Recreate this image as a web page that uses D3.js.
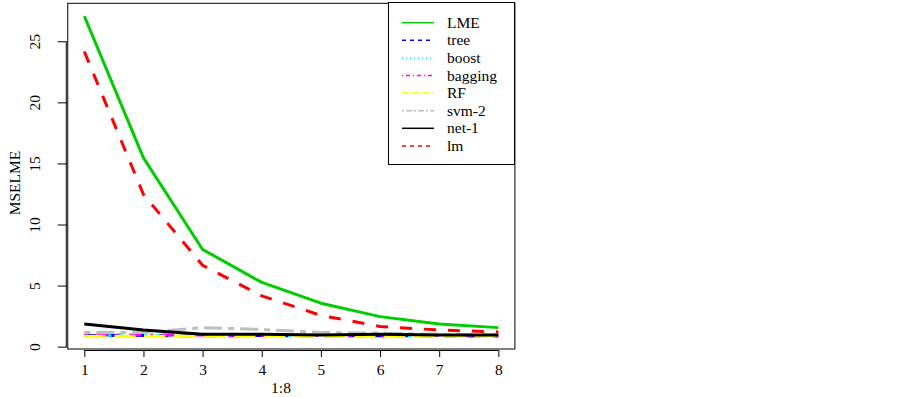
<!DOCTYPE html>
<html>
<head>
<meta charset="utf-8">
<script src="https://cdn.jsdelivr.net/npm/d3@7"></script>
<style>
  body { margin: 0; background: #fff; }
  text { font-family: "Liberation Serif", "DejaVu Serif", serif; fill: #000; }
</style>
</head>
<body>
<div id="chart"></div>
<script>
// x values are 1:8
var steps = [1, 2, 3, 4, 5, 6, 7, 8];

// series
var seriesNames = ["LME", "tree", "boost", "bagging", "RF", "svm-2", "net-1", "lm"];
var lme     = [27.1, 15.5, 8.0, 5.3, 3.6, 2.5, 1.9, 1.6];
var tree    = [0.95, 0.95, 0.93, 0.95, 0.93, 0.93, 0.92, 0.92];
var boost   = [0.93, 0.96, 0.95, 0.97, 0.90, 0.90, 0.92, 0.95];
var bagging = [0.98, 1.00, 1.00, 0.96, 0.95, 0.94, 0.95, 0.94];
var rf      = [0.90, 0.90, 0.91, 0.91, 0.90, 0.90, 0.90, 0.90];
var svm2    = [1.20, 1.20, 1.60, 1.45, 1.20, 1.15, 1.05, 1.00];
var net1    = [1.90, 1.40, 1.05, 1.05, 1.00, 1.05, 1.00, 1.00];
var lm      = [24.2, 12.5, 6.7, 4.2, 2.6, 1.7, 1.4, 1.25];

var xTicks = [1, 2, 3, 4, 5, 6, 7, 8];
var yTicks = [0, 5, 10, 15, 20, 25];

// styles (colour and R-like line types)
var colors = ["#00cd00", "#0000ff", "#00ffff", "#ff00ff", "#ffff00", "#bebebe", "#000000", "#ff0000"];
var dashes = [null, "4 4", "1 3", "1 3 4 3", "7 3", "2 2 6 2", null, "4 4"];

var allSeries = [lme, tree, boost, bagging, rf, svm2, net1, lm];

var width = 903, height = 397;

var svg = d3.select("#chart").append("svg")
  .attr("width", width)
  .attr("height", height);

svg.append("rect").attr("width", width).attr("height", height).attr("fill", "#fff");

// plot region
var box = { left: 67.75, right: 514.9, top: 3.3, bottom: 349 };

var x = d3.scaleLinear().domain([0.72, 8.28]).range([box.left, box.right]);
var y = d3.scaleLinear().domain([-0.15, 28.15]).range([box.bottom, box.top]);

// lines
var line = d3.line()
  .x(function(d, i) { return x(steps[i]); })
  .y(function(d) { return y(d); });

var lwd = 3;
allSeries.forEach(function(s, k) {
  var path = svg.append("path")
    .datum(s)
    .attr("d", line)
    .attr("fill", "none")
    .attr("stroke", colors[k])
    .attr("stroke-width", lwd)
    .attr("stroke-linejoin", "round");
  if (dashes[k]) {
    path.attr("stroke-dasharray", dashes[k].split(" ").map(function(v) { return +v * lwd; }).join(" "));
  }
});

// frame
svg.append("rect")
  .attr("x", box.left)
  .attr("y", box.top)
  .attr("width", box.right - box.left)
  .attr("height", box.bottom - box.top)
  .attr("fill", "none")
  .attr("stroke", "#000")
  .attr("stroke-width", 1);

// x axis
var xAxis = svg.append("g")
  .attr("transform", "translate(0," + (box.bottom + 1) + ")")
  .call(d3.axisBottom(x).tickValues(xTicks).tickSize(7).tickPadding(7).tickFormat(d3.format("d")));
xAxis.select(".domain").attr("d", "M" + x(1) + ",0.5H" + x(8));
xAxis.selectAll("text").style("font-size", "15.5px").style("font-family", "Liberation Serif, serif");

// y axis
var yAxis = svg.append("g")
  .attr("transform", "translate(" + (box.left - 1) + ",0)")
  .call(d3.axisLeft(y).tickValues(yTicks).tickSize(9).tickFormat(d3.format("d")));
yAxis.select(".domain").attr("d", "M-0.5," + y(0) + "V" + y(25));
yAxis.selectAll("text")
  .style("font-size", "15.5px")
  .style("font-family", "Liberation Serif, serif")
  .attr("text-anchor", "middle")
  .attr("x", 0)
  .attr("dy", 0)
  .attr("transform", function(d) { return "translate(-32," + y(d) + ") rotate(-90)"; })
  .attr("y", 0)
  .attr("dominant-baseline", "central");
yAxis.selectAll(".tick").attr("transform", null);
yAxis.selectAll(".tick line").attr("transform", function(d) { return "translate(0," + y(d) + ")"; });

// axis titles
svg.append("text")
  .attr("x", 281)
  .attr("y", 393)
  .attr("text-anchor", "middle")
  .style("font-size", "15.5px")
  .text("1:8");

svg.append("text")
  .attr("transform", "translate(20,183) rotate(-90)")
  .attr("text-anchor", "middle")
  .style("font-size", "15.5px")
  .text("MSELME");

// legend
var legend = svg.append("g");
legend.append("rect")
  .attr("x", 388.5)
  .attr("y", 2.5)
  .attr("width", 126)
  .attr("height", 162)
  .attr("fill", "#fff")
  .attr("stroke", "#000");

seriesNames.forEach(function(name, k) {
  var ly = 22.7 + k * 17.6;
  var l = legend.append("line")
    .attr("x1", 402).attr("x2", 434)
    .attr("y1", ly).attr("y2", ly)
    .attr("stroke", colors[k])
    .attr("stroke-width", 1.5);
  if (dashes[k]) l.attr("stroke-dasharray", dashes[k]);
  legend.append("text")
    .attr("x", 447)
    .attr("y", ly)
    .attr("dy", "0.33em")
    .style("font-size", "15.5px")
    .text(name);
});
</script>
</body>
</html>
